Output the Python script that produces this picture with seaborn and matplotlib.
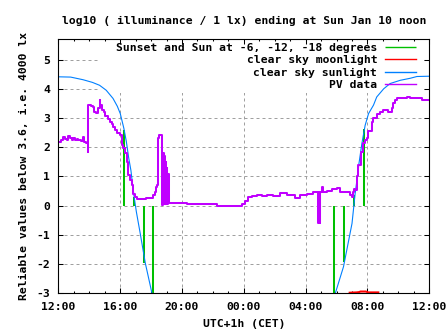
import matplotlib
matplotlib.use("Agg")
import matplotlib.pyplot as plt
from matplotlib.patches import Rectangle
import seaborn as sns
import numpy as np

# ---- data (hours after Sat 12:00 CET) ----
tick_hours = [0, 4, 8, 12, 16, 20, 24]
tick_labels = ["12:00", "16:00", "20:00", "00:00", "04:00", "08:00", "12:00"]
y_ticks = [-3, -2, -1, 0, 1, 2, 3, 4, 5]

# sunset / sun at -6, -12, -18 deg (evening) and -18, -12, -6, sunrise (morning)
twilight_hours = [4.27, 4.90, 5.56, 6.14, 17.85, 18.50, 19.15, 19.79]
twilight_values = [2.60, 0.30, -1.95, -3.50, -3.50, -1.92, 0.38, 2.64]

moon_hours = [18.85, 19.30, 19.45, 19.55, 19.90, 20.05, 20.70]
moon_values = [-2.98, -2.97, -2.96, -2.94, -2.94, -2.97, -2.97]

sun_hours = [0.0, 0.8, 1.6, 2.2, 2.67, 3.1, 3.54, 3.82, 4.01, 4.24, 4.40, 4.55,
             4.70, 4.81, 4.92, 5.05, 5.30, 5.63, 6.06, 6.20,
             17.85, 17.92, 18.45, 19.00, 19.20, 19.35, 19.45, 19.64, 19.85,
             20.07, 20.39, 20.60, 21.05, 21.47, 22.12, 22.77, 23.20, 24.0]
sun_values = [4.41, 4.40, 4.31, 4.22, 4.12, 3.95, 3.67, 3.40, 3.15, 2.65, 2.20, 1.65,
              1.20, 0.70, 0.25, -0.21, -0.95, -1.97, -3.00, -3.50,
              -3.50, -3.00, -2.09, -0.61, 0.40, 1.00, 1.44, 2.13, 2.75,
              3.15, 3.44, 3.72, 4.00, 4.18, 4.29, 4.36, 4.42, 4.43]

pv_hours = [0.00, 0.15, 0.32, 0.45, 0.54, 0.65, 0.75, 0.87, 0.98, 1.08, 1.18, 1.29,
            1.40, 1.50, 1.58, 1.66, 1.78, 1.88, 1.94, 1.95, 2.10, 2.24, 2.30, 2.45,
            2.55, 2.60, 2.67, 2.72, 2.80, 2.95, 3.05, 3.20, 3.34, 3.45, 3.56, 3.67,
            3.78, 3.99, 4.10, 4.20, 4.31, 4.42, 4.53, 4.64, 4.75, 4.85, 4.96, 5.07,
            5.50, 5.70, 6.00, 6.14, 6.25, 6.32, 6.36, 6.43, 6.51, 6.64, 6.69, 6.73,
            6.78, 6.82, 6.86, 6.90, 6.94, 6.98, 7.02, 7.06, 7.10, 7.15, 7.87, 8.30,
            8.95, 10.0, 10.25, 11.54, 11.86, 12.08, 12.29, 12.50, 12.83, 13.16, 13.48,
            13.89, 14.34, 14.77, 15.31, 15.63, 16.07, 16.50, 16.82, 16.84, 16.93,
            16.95, 17.04, 17.14, 17.36, 17.68, 18.01, 18.22, 18.65, 18.87, 18.98,
            19.04, 19.15, 19.19, 19.30, 19.40, 19.56, 19.69, 19.84, 19.94, 20.05,
            20.27, 20.38, 20.60, 20.81, 21.02, 21.35, 21.57, 21.67, 21.78, 21.89,
            22.10, 22.54, 22.75, 23.07, 23.40, 23.50, 24.00]
pv_values = [2.18, 2.24, 2.35, 2.28, 2.24, 2.37, 2.30, 2.26, 2.30, 2.24, 2.28, 2.24,
             2.26, 2.22, 2.35, 2.18, 2.16, 2.13, 1.82, 3.44, 3.40, 3.38, 3.20, 3.18,
             3.30, 3.35, 3.60, 3.45, 3.28, 3.20, 3.08, 2.95, 2.87, 2.80, 2.70, 2.58,
             2.47, 2.41, 2.07, 1.96, 1.79, 1.50, 1.04, 0.87, 0.70, 0.41, 0.30, 0.22,
             0.22, 0.25, 0.25, 0.36, 0.48, 0.64, 0.70, 2.30, 2.42, 2.42, 2.10, 0.02,
             1.80, 0.05, 1.70, 0.05, 1.50, 0.05, 1.30, 0.05, 1.10, 0.08, 0.09, 0.05,
             0.04, 0.04, 0.00, 0.00, 0.04, 0.17, 0.29, 0.33, 0.38, 0.32, 0.36,
             0.32, 0.42, 0.35, 0.27, 0.38, 0.40, 0.47, -0.60, 0.45, -0.60,
             0.45, 0.64, 0.45, 0.50, 0.56, 0.60, 0.45, 0.45, 0.38, 0.28,
             0.45, 0.58, 0.55, 1.00, 1.40, 1.85, 2.13, 2.24, 2.30, 2.55,
             2.85, 3.00, 3.15, 3.21, 3.27, 3.21, 3.33, 3.50, 3.61, 3.67,
             3.70, 3.72, 3.68, 3.70, 3.67, 3.61, 3.61]

GREEN, RED, BLUE, PURPLE = "#00c000", "#ff0000", "#0080ff", "#c000ff"
FONT = dict(family="DejaVu Sans Mono", weight="bold", size=8.2)

plt.rcParams["font.family"] = "DejaVu Sans Mono"
plt.rcParams["font.weight"] = "bold"
plt.rcParams["font.size"] = 8.2

fig = plt.figure(figsize=(4.47, 3.35), dpi=100)
ax = fig.add_axes([0.1304, 0.1245, 0.8300, 0.7605])
ax.set_xlim(0, 24)
ax.set_ylim(-3, 5.72)

# grid (manual so the key area can mask it without hiding the ticks)
for yv in y_ticks:
    ax.axhline(yv, color="#a0a0a0", lw=0.72, ls=(0, (3, 3)), zorder=0.2)
for xv in tick_hours[1:-1]:
    ax.axvline(xv, color="#a0a0a0", lw=0.72, ls=(0, (3, 3)), zorder=0.2)
ax.add_patch(Rectangle((0.112, 0.786), 0.868, 0.214, transform=ax.transAxes,
                       facecolor="white", edgecolor="none", zorder=0.3))

ax.vlines(twilight_hours, 0, twilight_values, colors=GREEN, lw=1.45, zorder=2,
          label="Sunset and Sun at -6, -12, -18 degrees")
sns.lineplot(x=moon_hours, y=moon_values, ax=ax, color=RED, lw=1.5,
             estimator=None, sort=False, label="clear sky moonlight", zorder=2)
sns.lineplot(x=sun_hours, y=sun_values, ax=ax, color=BLUE, lw=0.8,
             estimator=None, sort=False, label="clear sky sunlight", zorder=3)
sns.lineplot(x=pv_hours, y=pv_values, ax=ax, color=PURPLE, lw=1.45,
             estimator=None, sort=False, drawstyle="steps-post", label="PV data", zorder=4)

ax.set_xticks(tick_hours)
ax.set_xticklabels(tick_labels)
ax.set_xticks(np.arange(0, 25, 1), minor=True)
ax.set_yticks(y_ticks)
ax.set_yticklabels([str(v) for v in y_ticks])
ax.tick_params(which="both", direction="in", top=True, right=True, width=0.75,
               labelsize=8.2, pad=6)
ax.tick_params(which="major", length=3.3)
ax.tick_params(which="minor", length=1.7)
for s in ax.spines.values():
    s.set_linewidth(0.8)
    s.set_color("black")
    s.set_zorder(5)

ax.set_title("log10 ( illuminance / 1 lx) ending at Sun Jan 10 noon", pad=10.5, **FONT)
ax.set_xlabel("UTC+1h (CET)", **FONT)
ax.set_ylabel("Reliable values below 3.6, i.e. 4000 lx", **FONT)
ax.xaxis.set_label_coords(0.5, -0.10)
ax.yaxis.set_label_coords(-0.078, 0.5)

leg = ax.legend(loc="upper right", bbox_to_anchor=(0.964, 0.984), frameon=False,
                markerfirst=False, handlelength=2.7, handletextpad=0.7,
                labelspacing=0.22, borderpad=0, borderaxespad=0,
                prop=dict(family="DejaVu Sans Mono", weight="bold", size=8.2))
for h in leg.legend_handles:
    h.set_linewidth(1.0)

fig.savefig("out.png", dpi=100)
